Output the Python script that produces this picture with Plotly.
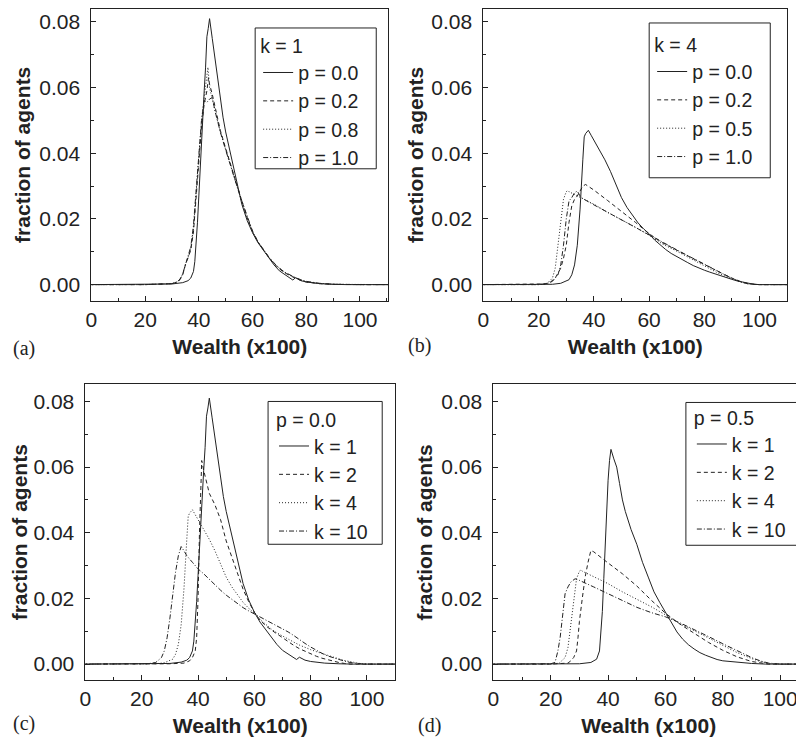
import plotly.graph_objects as go

# ---------------- data ----------------
# k = 1, p = 0.0  (panel a solid, panel c solid)
x_k1_p00 = [-1, 10, 20, 30, 34, 36, 37, 38, 38.5, 39, 39.5, 40, 40.5, 41, 41.5, 42, 42.5, 43, 43.5, 44,
            45, 46, 47, 48, 49, 50, 52, 54, 56, 58, 60, 62, 64, 66, 68, 70, 72, 74, 75, 76, 77, 78, 80, 85, 90, 95, 111]
y_k1_p00 = [0, 0, 0, 0.0002, 0.0006, 0.0012, 0.002, 0.004, 0.007, 0.012, 0.019, 0.027, 0.036, 0.045, 0.052, 0.059,
            0.066, 0.0755, 0.078, 0.081, 0.075, 0.069, 0.0615, 0.056, 0.051, 0.0465, 0.039, 0.031, 0.0245, 0.0195,
            0.0158, 0.0128, 0.0105, 0.0083, 0.006, 0.0042, 0.003, 0.0019, 0.0014, 0.0021, 0.0017, 0.0012, 0.0008,
            0.0003, 0.0001, 0, 0]

# k = 1, p = 0.2 (panel a dashed)
x_k1_p02 = [-1, 20, 30, 32, 33, 34, 35, 36, 37, 38, 39, 40, 41, 42, 43, 43.6, 44, 45, 46, 48, 50, 52, 54, 56, 58,
            60, 62, 64, 66, 68, 70, 72, 74, 76, 78, 80, 85, 90, 100, 111]
y_k1_p02 = [0, 0, 0.0003, 0.0008, 0.0015, 0.003, 0.006, 0.008, 0.0105, 0.016, 0.026, 0.038, 0.048, 0.055, 0.059,
            0.063, 0.061, 0.058, 0.054, 0.047, 0.0415, 0.036, 0.031, 0.0255, 0.0205, 0.0162, 0.013, 0.0105, 0.0084,
            0.0064, 0.0048, 0.0036, 0.0027, 0.0019, 0.0013, 0.0008, 0.0003, 0.0001, 0, 0]

# k = 1, p = 0.8 (panel a dotted)
x_k1_p08 = [-1, 20, 30, 32, 33, 34, 35, 36, 37, 38, 39, 40, 41, 42, 43, 43.4, 44, 45, 46, 48, 50, 52, 54, 56, 58,
            60, 62, 64, 66, 68, 70, 72, 74, 76, 78, 80, 85, 90, 100, 111]
y_k1_p08 = [0, 0, 0.0003, 0.0008, 0.0016, 0.0032, 0.0062, 0.0082, 0.011, 0.017, 0.028, 0.04, 0.05, 0.057, 0.064,
            0.0662, 0.060, 0.056, 0.053, 0.0465, 0.041, 0.0355, 0.0305, 0.0252, 0.0203, 0.016, 0.0129, 0.0104,
            0.0083, 0.0064, 0.0049, 0.0037, 0.0028, 0.002, 0.0014, 0.0009, 0.0003, 0.0001, 0, 0]

# k = 1, p = 1.0 (panel a dash-dot)
x_k1_p10 = [-1, 20, 30, 32, 33, 34, 35, 36, 37, 38, 39, 40, 41, 42, 43, 44, 45, 46, 48, 50, 52, 54, 56, 58,
            60, 62, 64, 66, 68, 70, 72, 74, 76, 78, 80, 85, 90, 100, 111]
y_k1_p10 = [0, 0, 0.0003, 0.0009, 0.0017, 0.0033, 0.006, 0.0085, 0.0115, 0.018, 0.029, 0.041, 0.05, 0.056, 0.0555,
            0.0565, 0.057, 0.053, 0.0465, 0.041, 0.0355, 0.0305, 0.0255, 0.0206, 0.0163, 0.0131, 0.0106, 0.0085,
            0.0066, 0.005, 0.0038, 0.0029, 0.0021, 0.0015, 0.001, 0.0004, 0.0001, 0, 0]

# k = 4, p = 0.0 (panel b solid, panel c dotted)
x_k4_p00 = [-1, 20, 25, 28, 30, 31, 32, 33, 34, 35, 36, 36.5, 37, 38, 39, 40, 42, 44, 46, 48, 50, 52, 54, 56,
            58, 60, 62, 64, 66, 68, 70, 72, 74, 76, 78, 80, 82, 84, 86, 88, 90, 92, 94, 96, 98, 100, 111]
y_k4_p00 = [0, 0, 0.0001, 0.0004, 0.001, 0.0015, 0.003, 0.006, 0.012, 0.023, 0.038, 0.045, 0.046, 0.047, 0.0455,
            0.044, 0.041, 0.038, 0.0345, 0.0305, 0.0265, 0.0235, 0.021, 0.0188, 0.017, 0.0155, 0.0136, 0.012,
            0.0107, 0.0095, 0.0085, 0.0076, 0.0067, 0.0058, 0.005, 0.0044, 0.0038, 0.0032, 0.0026, 0.0021,
            0.0016, 0.0011, 0.0007, 0.0004, 0.0001, 0, 0]

# k = 4, p = 0.2 (panel b dashed)
x_k4_p02 = [-1, 20, 22, 24, 26, 28, 29, 30, 31, 32, 33, 34, 35, 36, 37, 38, 40, 45, 50, 55, 60, 65, 70, 75, 80,
            85, 90, 93, 96, 100, 111]
y_k4_p02 = [0, 0, 0.0002, 0.0006, 0.002, 0.005, 0.008, 0.012, 0.019, 0.024, 0.026, 0.027, 0.0285, 0.03, 0.0305,
            0.030, 0.0288, 0.0256, 0.0224, 0.019, 0.0155, 0.0127, 0.0105, 0.0083, 0.0062, 0.004, 0.002, 0.001,
            0.0003, 0, 0]

# k = 4, p = 0.5 (panel b dotted, panel d dotted)
x_k4_p05 = [-1, 20, 23, 25, 26, 27, 28, 29, 30, 30.6, 31, 33, 36, 40, 45, 50, 55, 60, 65, 70, 75, 80, 85, 90,
            93, 96, 100, 111]
y_k4_p05 = [0, 0, 0.0003, 0.002, 0.005, 0.012, 0.02, 0.026, 0.0283, 0.0287, 0.0283, 0.0275, 0.0263, 0.0245,
            0.022, 0.0198, 0.0175, 0.015, 0.0123, 0.0102, 0.0079, 0.0057, 0.0035, 0.0017, 0.0008, 0.0002, 0, 0]

# k = 4, p = 1.0 (panel b dash-dot)
x_k4_p10 = [-1, 20, 23, 25, 27, 28, 29, 30, 31, 32, 33, 34, 35, 36, 40, 45, 50, 55, 60, 65, 70, 75, 80, 85, 90,
            93, 96, 100, 111]
y_k4_p10 = [0, 0, 0.0003, 0.001, 0.003, 0.006, 0.012, 0.02, 0.0255, 0.0265, 0.028, 0.0285, 0.027, 0.0262,
            0.0243, 0.022, 0.0198, 0.0175, 0.0152, 0.0127, 0.0106, 0.0084, 0.0062, 0.004, 0.0019, 0.0009, 0.0002, 0, 0]

# k = 2, p = 0.0 (panel c dashed)
x_k2_p00 = [-1, 20, 30, 35, 37, 38, 39, 39.5, 40, 40.5, 41, 41.3, 42, 43, 44, 46, 48, 50, 52, 54, 56, 58, 60,
            62, 64, 66, 68, 70, 72, 74, 76, 78, 80, 82, 84, 86, 88, 90, 92, 94, 100, 111]
y_k2_p00 = [0, 0, 0.0001, 0.0003, 0.001, 0.002, 0.004, 0.008, 0.02, 0.04, 0.058, 0.062, 0.059, 0.055, 0.052,
            0.0485, 0.044, 0.0375, 0.0325, 0.0275, 0.0228, 0.019, 0.0158, 0.0134, 0.0117, 0.0104, 0.0092, 0.008,
            0.0068, 0.0057, 0.0047, 0.0039, 0.0031, 0.0024, 0.0018, 0.0013, 0.0009, 0.0005, 0.0002, 0, 0, 0]

# k = 10, p = 0.0 (panel c dash-dot)
x_k10_p00 = [-1, 20, 22, 25, 27, 28, 29, 30, 31, 32, 33, 34, 35, 36, 38, 40, 42, 44, 46, 48, 50, 52, 54, 56, 58,
             60, 62, 64, 66, 68, 70, 72, 74, 76, 78, 80, 82, 84, 86, 88, 90, 92, 94, 96, 98, 100, 111]
y_k10_p00 = [0, 0, 0.0001, 0.0005, 0.002, 0.004, 0.008, 0.014, 0.021, 0.028, 0.033, 0.0358, 0.0345, 0.033,
             0.031, 0.029, 0.0275, 0.0258, 0.024, 0.0225, 0.021, 0.0197, 0.0184, 0.0172, 0.0162, 0.0153, 0.0143,
             0.0135, 0.0127, 0.0118, 0.0108, 0.0098, 0.0087, 0.0074, 0.0063, 0.0052, 0.0042, 0.0033, 0.0025,
             0.0019, 0.0014, 0.0009, 0.0005, 0.0002, 0.0001, 0, 0]

# k = 1, p = 0.5 (panel d solid)
x_k1_p05 = [-1, 20, 30, 34, 36, 37, 37.5, 38, 38.5, 39, 39.5, 40, 40.5, 41, 42, 43, 44, 45, 46, 47, 48, 50, 52,
            54, 56, 58, 60, 62, 64, 66, 68, 70, 72, 74, 76, 78, 80, 85, 90, 95, 111]
y_k1_p05 = [0, 0, 0.0001, 0.0005, 0.0015, 0.004, 0.009, 0.016, 0.026, 0.036, 0.05, 0.056, 0.062, 0.0654, 0.0625,
            0.06, 0.055, 0.05, 0.0465, 0.0435, 0.041, 0.0365, 0.031, 0.0265, 0.022, 0.0188, 0.0158, 0.0125,
            0.0098, 0.0076, 0.0059, 0.0046, 0.0035, 0.0027, 0.002, 0.0014, 0.001, 0.0005, 0.0002, 0, 0]

# k = 2, p = 0.5 (panel d dashed)
x_k2_p05 = [-1, 20, 26, 27, 28, 29, 29.5, 30, 31, 32, 33, 34, 35, 36, 40, 45, 50, 55, 60, 65, 70, 75, 80, 85,
            90, 93, 96, 100, 111]
y_k2_p05 = [0, 0, 0.0003, 0.001, 0.002, 0.004, 0.008, 0.013, 0.02, 0.0265, 0.031, 0.0346, 0.0342, 0.0335,
            0.0308, 0.0275, 0.0238, 0.0195, 0.0155, 0.0122, 0.0093, 0.0066, 0.0042, 0.0022, 0.0008, 0.0003, 0, 0, 0]

# k = 10, p = 0.5 (panel d dash-dot)
x_k10_p05 = [-1, 19, 20, 21.5, 22.5, 23.3, 24, 25, 26, 27, 28.5, 30, 35, 40, 45, 50, 55, 60, 65, 70, 75, 80, 85,
             90, 93, 96, 100, 111]
y_k10_p05 = [0, 0, 0.0001, 0.0005, 0.004, 0.0082, 0.013, 0.0214, 0.0235, 0.025, 0.026, 0.0255, 0.0235, 0.0215,
             0.0195, 0.0173, 0.0157, 0.0144, 0.0126, 0.0106, 0.0084, 0.0062, 0.004, 0.002, 0.001, 0.0003, 0, 0]

x_ticks = [0, 20, 40, 60, 80, 100]
y_ticks = [0.00, 0.02, 0.04, 0.06, 0.08]
panel_labels = ["(a)", "(b)", "(c)", "(d)"]
legend_titles = ["k = 1", "k = 4", "p = 0.0", "p = 0.5"]

# ---------------- styling ----------------
INK = "#222222"
OFF = 8                      # default page body margin of the html output
W, H = 804 - OFF, 740 - OFF  # figure size so the page fills the 804x740 window
DASH = {"solid": "solid", "dash": "4px,3px", "dot": "1px,2px", "dashdot": "5px,2px,1px,2px"}
FONT = "Liberation Sans, Arial, sans-serif"
PX_PER_Y = 3288.0            # pixels per unit of y


def px_x(p):
    return min(1.0, max(0.0, (p - OFF) / W))


def px_y(p):
    return min(1.0, max(0.0, 1 - (p - OFF) / H))


panels = [
    ("x", "y", "legend", [(x_k1_p00, y_k1_p00, "p = 0.0", "solid"),
                          (x_k1_p02, y_k1_p02, "p = 0.2", "dash"),
                          (x_k1_p08, y_k1_p08, "p = 0.8", "dot"),
                          (x_k1_p10, y_k1_p10, "p = 1.0", "dashdot")]),
    ("x2", "y2", "legend2", [(x_k4_p00, y_k4_p00, "p = 0.0", "solid"),
                             (x_k4_p02, y_k4_p02, "p = 0.2", "dash"),
                             (x_k4_p05, y_k4_p05, "p = 0.5", "dot"),
                             (x_k4_p10, y_k4_p10, "p = 1.0", "dashdot")]),
    ("x3", "y3", "legend3", [(x_k1_p00, y_k1_p00, "k = 1", "solid"),
                             (x_k2_p00, y_k2_p00, "k = 2", "dash"),
                             (x_k4_p00, y_k4_p00, "k = 4", "dot"),
                             (x_k10_p00, y_k10_p00, "k = 10", "dashdot")]),
    ("x4", "y4", "legend4", [(x_k1_p05, y_k1_p05, "k = 1", "solid"),
                             (x_k2_p05, y_k2_p05, "k = 2", "dash"),
                             (x_k4_p05, y_k4_p05, "k = 4", "dot"),
                             (x_k10_p05, y_k10_p05, "k = 10", "dashdot")]),
]

fig = go.Figure()
for xa, ya, lg, series in panels:
    for xs, ys, name, dash in series:
        fig.add_trace(go.Scatter(x=xs, y=ys, mode="lines", name=name, xaxis=xa, yaxis=ya, legend=lg,
                                 line=dict(color=INK, width=1, dash=DASH[dash])))

# page-pixel geometry of panels: (left, right, top, bottom, xmax, pixel of y=0)
geo = [(86, 385, 8, 300, 110.5, 284), (481, 787, 8, 300, 110, 284),
       (80, 392, 384, 680, 110, 664), (491, 804, 384, 680, 108.3, 664)]


def axis_common():
    return dict(showline=True, linecolor=INK, linewidth=1, ticks="inside", ticklen=5, tickwidth=1,
                tickcolor=INK, showgrid=False, zeroline=False,
                tickfont=dict(family=FONT, size=21, color=INK))


layout = dict(width=W, height=H, margin=dict(l=0, r=0, t=0, b=0), paper_bgcolor="white",
              plot_bgcolor="white", showlegend=True)
for i, (l, r, t, b, xmax, y0) in enumerate(geo):
    sfx = "" if i == 0 else str(i + 1)
    ymin = -(b - y0) / PX_PER_Y
    ymax = (y0 - t) / PX_PER_Y
    xa = axis_common()
    xa.update(domain=[px_x(l), px_x(r)], range=[0, xmax], tickvals=x_ticks,
              anchor="y" + sfx, mirror=True,
              minor=dict(ticks="inside", ticklen=3, dtick=10, tick0=0, tickcolor=INK),
              title=dict(text="<b>Wealth (x100)</b>", font=dict(family=FONT, size=21, color=INK), standoff=9))
    ya = axis_common()
    ya.update(domain=[px_y(b), px_y(t)], range=[ymin, ymax], tickvals=y_ticks, tickformat=".2f",
              anchor="x" + sfx, mirror=(i != 3), ticklabelstandoff=6,
              minor=dict(ticks="inside", ticklen=3, dtick=0.01, tick0=0, tickcolor=INK),
              title=dict(text="<b>fraction of agents</b>", font=dict(family=FONT, size=21, color=INK), standoff=2))
    layout["xaxis" + sfx] = xa
    layout["yaxis" + sfx] = ya

# legend content anchor (page px) and legend frame (page px: left, right, top, bottom)
leg_pos = [(254, 27), (651, 26), (270, 401), (691, 399)]
leg_box = [(251, 373, 27, 168), (648, 770, 22, 177), (264, 379, 401, 544), (685, 799, 402, 545)]
shapes = []
for i, ((lx, ly), (bl, br, bt, bb)) in enumerate(zip(leg_pos, leg_box)):
    key = "legend" if i == 0 else "legend%d" % (i + 1)
    layout[key] = dict(x=px_x(lx), y=px_y(ly), xanchor="left", yanchor="top", xref="paper", yref="paper",
                       bgcolor="rgba(0,0,0,0)", borderwidth=0,
                       font=dict(family=FONT, size=19.5, color=INK),
                       title=dict(text=legend_titles[i], font=dict(family=FONT, size=19.5, color=INK)),
                       tracegroupgap=0)
    shapes.append(dict(type="rect", xref="paper", yref="paper", x0=px_x(bl), x1=px_x(br),
                       y0=px_y(bb), y1=px_y(bt), line=dict(color=INK, width=1),
                       fillcolor="white", layer="above"))
layout["shapes"] = shapes

fig.update_layout(**layout)

label_pos = [(18, 348), (417, 345), (18, 723), (427, 725)]
for txt, (px, py) in zip(panel_labels, label_pos):
    fig.add_annotation(x=px_x(px), y=px_y(py), xref="paper", yref="paper", text=txt, showarrow=False,
                       xanchor="center", yanchor="middle",
                       font=dict(family="Liberation Serif, Times New Roman, serif", size=20, color=INK))

fig.write_html("out.html")
